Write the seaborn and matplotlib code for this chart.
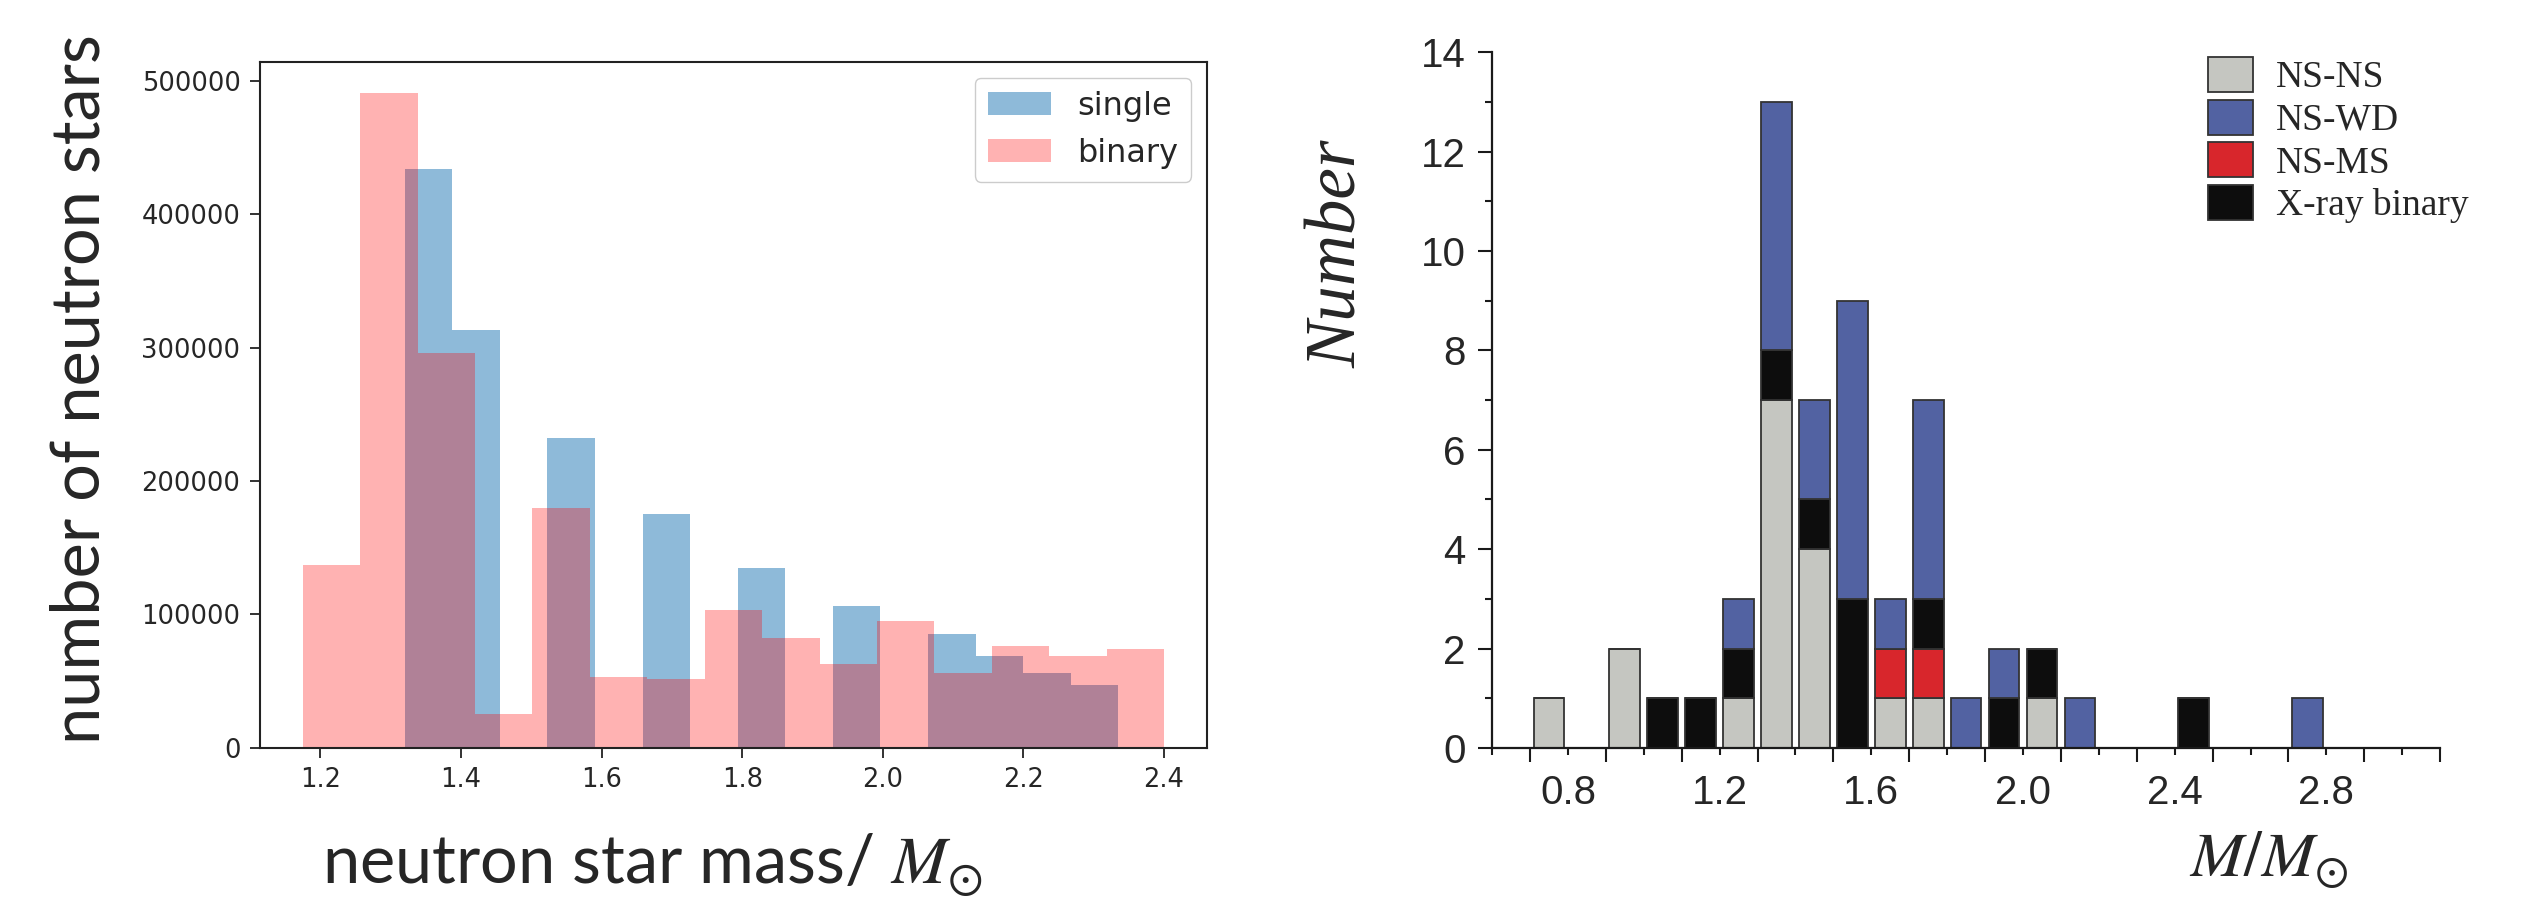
import numpy as np
import pandas as pd
import matplotlib
matplotlib.use("Agg")
import matplotlib.pyplot as plt
import seaborn as sns
from matplotlib.patches import Patch
from matplotlib.ticker import FixedLocator, FixedFormatter

# ---- left panel: simulated NS mass distribution (bin centres + counts) ----
binary_mass = [1.216, 1.298, 1.379, 1.461, 1.543, 1.624, 1.706, 1.788,
               1.869, 1.951, 2.033, 2.114, 2.196, 2.278, 2.359]
binary_counts = [137000, 491000, 296000, 25500, 180000, 53500, 52000, 103000,
                 82500, 63000, 95000, 56000, 76000, 69000, 74000]
single_mass = [1.354, 1.421, 1.489, 1.557, 1.625, 1.692, 1.760, 1.828,
               1.895, 1.963, 2.030, 2.098, 2.166, 2.233, 2.301]
single_counts = [434000, 313000, 0, 232000, 0, 175000, 0, 135000,
                 0, 106000, 0, 85000, 69000, 56000, 47000]

# ---- right panel: observed NS masses by system type ----
obs_mass = [0.75, 0.95, 1.05, 1.15, 1.25, 1.35, 1.45, 1.55,
            1.65, 1.75, 1.85, 1.95, 2.05, 2.15, 2.45, 2.75]
n_nsns = [1, 2, 0, 0, 1, 7, 4, 0, 1, 1, 0, 0, 1, 0, 0, 0]
n_nsms = [0, 0, 0, 0, 0, 0, 0, 0, 1, 1, 0, 0, 0, 0, 0, 0]
n_xray = [0, 0, 1, 1, 1, 1, 1, 3, 0, 1, 0, 1, 1, 0, 1, 0]
n_nswd = [0, 0, 0, 0, 1, 5, 2, 6, 1, 4, 1, 1, 0, 1, 0, 1]

right_xticks = [0.8, 1.2, 1.6, 2.0, 2.4, 2.8]
C = {"NS-NS": "#c5c6c1", "NS-WD": "#5262a2", "NS-MS": "#d8262c",
     "X-ray binary": "#0d0d0d"}

sns.set_style("ticks")
plt.rcParams["font.family"] = ["DejaVu Sans"]
plt.rcParams["mathtext.fontset"] = "stix"

fig = plt.figure(figsize=(25.26, 9.0), dpi=100)

# ---------------- left panel ----------------
ax1 = fig.add_axes([0.1029, 0.169, 0.3749, 0.762])
sns.histplot(x=single_mass, weights=single_counts, bins=15,
             binrange=(1.32, 2.335), color="tab:blue", alpha=0.5,
             linewidth=0, label="single", ax=ax1)
sns.histplot(x=binary_mass, weights=binary_counts, bins=15,
             binrange=(1.175, 2.40), color="red", alpha=0.3,
             linewidth=0, label="binary", ax=ax1)
ax1.set_xlim(1.114, 2.461)
ax1.set_ylim(0, 514000)
ax1.set_xticks([1.2, 1.4, 1.6, 1.8, 2.0, 2.2, 2.4])
ax1.set_yticks([0, 100000, 200000, 300000, 400000, 500000])
ax1.set_xticklabels(["1.2", "1.4", "1.6", "1.8", "2.0", "2.2", "2.4"])
ax1.set_yticklabels(["0", "100000", "200000", "300000", "400000", "500000"])
ax1.set_xlabel("")
ax1.set_ylabel("")
for sp in ax1.spines.values():
    sp.set_linewidth(1.5)
    sp.set_color("#222222")
ax1.tick_params(labelsize=18.5, labelcolor="#262626", length=7, width=1.3,
                pad=7, color="#222222")
ax1.legend(loc="upper right", fontsize=23, frameon=True, fancybox=True,
           edgecolor="#cccccc", framealpha=1)

fig.text(0.032, 0.568, "number of neutron stars", rotation=90,
         ha="center", va="center", fontsize=48, family="Lato")
fig.text(0.258, 0.019, r"neutron star mass/ $M_{\odot}$",
         ha="center", va="baseline", fontsize=48, family="Lato")

# ---------------- right panel ----------------
ax2 = fig.add_axes([0.5907, 0.169, 0.3753, 0.773])
bottom = np.zeros(len(obs_mass))
for name, vals in [("NS-NS", n_nsns), ("NS-MS", n_nsms),
                   ("X-ray binary", n_xray), ("NS-WD", n_nswd)]:
    vals = np.array(vals)
    ax2.bar(obs_mass, vals, width=0.081, bottom=bottom, color=C[name],
            edgecolor="#333333", linewidth=1.3)
    bottom += vals

ax2.set_xlim(0.6, 3.1)
ax2.set_ylim(0, 14)
sns.despine(ax=ax2)
for sp in ("left", "bottom"):
    ax2.spines[sp].set_linewidth(1.6)
    ax2.spines[sp].set_color("#1a1a1a")

major_x = [round(0.6 + 0.2 * i, 1) for i in range(13)]
minor_x = [round(0.7 + 0.2 * i, 1) for i in range(13)]
ax2.xaxis.set_major_locator(FixedLocator(major_x))
ax2.xaxis.set_major_formatter(FixedFormatter(
    [f"{v:.1f}" if v in right_xticks else "" for v in major_x]))
ax2.xaxis.set_minor_locator(FixedLocator(minor_x))
ax2.yaxis.set_major_locator(FixedLocator(list(range(0, 15, 2))))
ax2.yaxis.set_minor_locator(FixedLocator(list(range(1, 15, 2))))
ax2.tick_params(axis="x", which="major", length=5, width=1.5, pad=14,
                labelsize=29, color="#1a1a1a")
ax2.tick_params(axis="x", which="minor", length=10, width=1.5,
                color="#1a1a1a")
ax2.tick_params(axis="y", which="major", length=10, width=1.5, pad=9,
                labelsize=29, color="#1a1a1a")
ax2.tick_params(axis="y", which="minor", length=5, width=1.5,
                color="#1a1a1a")
for lab in ax2.get_xticklabels() + ax2.get_yticklabels():
    lab.set_family("Liberation Sans")

ax2.set_ylabel("Number", fontsize=51, family="Liberation Serif",
               style="italic")
ax2.yaxis.set_label_coords(-0.128, 0.71)
ax2.text(0.903, -0.185, r"$M/M_{\odot}$", transform=ax2.transAxes,
         ha="right", va="baseline", fontsize=46)

handles = [Patch(facecolor=C[k], edgecolor="#333333", linewidth=1.3, label=k)
           for k in ["NS-NS", "NS-WD", "NS-MS", "X-ray binary"]]
ax2.legend(handles=handles, loc="upper left", bbox_to_anchor=(0.735, 1.02),
           frameon=False, prop={"family": "Liberation Serif", "size": 27},
           handlelength=1.22, handleheight=1.05, handletextpad=0.6,
           labelspacing=0.12, borderpad=0)

fig.savefig("out.png", dpi=100)
